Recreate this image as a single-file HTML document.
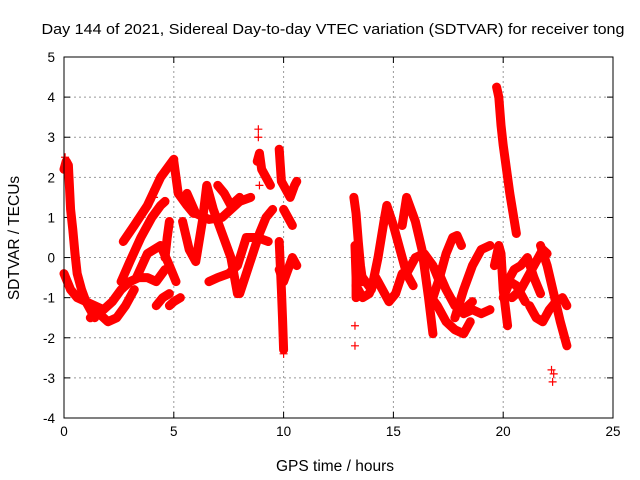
<!DOCTYPE html>
<html><head><meta charset="utf-8">
<style>
html,body{margin:0;padding:0;background:#fff;}
svg{display:block;font-family:"Liberation Sans",sans-serif;}
</style></head>
<body>
<svg id="chart" width="640" height="480" viewBox="0 0 640 480">
<rect width="640" height="480" fill="#fff"/>
<text x="333" y="34" font-size="15" text-anchor="middle" textLength="583" lengthAdjust="spacingAndGlyphs">Day 144 of 2021, Sidereal Day-to-day VTEC variation (SDTVAR) for receiver tong</text>
<g id="grid"></g>
<g id="axes"></g>
<g id="marks"></g>
<rect x="64" y="57" width="549" height="361" fill="none" stroke="#000" stroke-width="1"/>
<text x="335" y="471" font-size="15.5" text-anchor="middle">GPS time / hours</text>
<text x="19" y="238" font-size="15.5" text-anchor="middle" transform="rotate(-90 19 238)">SDTVAR / TECUs</text>
</svg>
<script>
const xTicks = [0,5,10,15,20,25];
const yTicks = [-4,-3,-2,-1,0,1,2,3,4,5];
const trackTimes = [
 [0,0.1,0.2,0.3,0.4,0.5,0.6,0.8,1.0,1.2,1.4],
 [0,0.3,0.6,1.0,1.4,1.8,2.2,2.6,3.0,3.4,3.8,4.2,4.6],
 [1.2,1.6,2.0,2.4,2.8,3.2],
 [2.7,3.2,3.8,4.4,4.8,5.0],
 [2.6,3.0,3.5,4.0,4.4,4.6],
 [3.3,3.8,4.4,4.8,5.1],
 [5.0,5.2,5.6,5.9],
 [4.2,4.5,4.8],
 [4.8,5.0,5.3],
 [4.6,4.7,4.8],
 [5.4,5.7,6.0,6.3,6.5,6.8,7.2,7.6,7.9],
 [5.6,6.0,6.6,7.2,7.6,8.0,8.5],
 [6.6,7.0,7.5,7.9,8.3,8.8,9.3],
 [8.0,8.3,8.6,8.9,9.2,9.5],
 [7.0,7.3,7.6,8.0],
 [8.8,8.9,9.0,9.2,9.4],
 [9.8,9.85,9.9,10.1,10.3,10.5,10.6],
 [9.8,9.85,9.9,9.95,10.0],
 [9.8,10.0,10.2,10.4,10.6],
 [10.0,10.2,10.4],
 [13.2,13.3,13.4,13.5,13.6],
 [13.25,13.3,13.3],
 [13.3,13.6,13.9,14.2,14.5,14.8,15.1,15.4],
 [13.6,14.0,14.3,14.6,14.7,15.0,15.3,15.6,15.9],
 [15.4,15.6,15.8,16.0,16.3,16.6,16.8],
 [15.6,16.0,16.4,16.8,17.1],
 [16.8,17.1,17.4,17.7,17.9,18.1],
 [16.6,17.0,17.4,17.8,18.2,18.5],
 [17.8,18.2,18.6,19.0,19.4],
 [18.2,18.6,19.0,19.4],
 [17.0,17.4,17.8,18.2,18.6],
 [19.7,19.8,19.9,20.0,20.1,20.3,20.45,20.6],
 [19.6,19.8,19.9,20.0,20.2],
 [20.2,20.5,20.8,21.1,21.4,21.7],
 [20.4,20.8,21.2,21.5,21.8,22.0],
 [21.7,22.0,22.3,22.6,22.9],
 [21.2,21.5,21.8,22.1,22.4,22.7,22.9],
 [20.0,20.3,20.6,21.0]
];
const trackValues = [
 [2.2,2.4,2.3,1.2,0.7,0.1,-0.4,-0.8,-1.1,-1.3,-1.5],
 [-0.4,-0.8,-1.0,-1.1,-1.2,-1.3,-1.1,-0.8,-0.6,-0.5,-0.5,-0.6,-0.3],
 [-1.5,-1.4,-1.6,-1.5,-1.2,-0.8],
 [0.4,0.8,1.3,2.0,2.3,2.45],
 [-0.6,-0.1,0.5,1.0,1.3,1.4],
 [-0.5,0.1,0.3,-0.2,-0.6],
 [2.4,1.6,1.3,1.1],
 [-1.2,-1.0,-0.9],
 [-1.2,-1.1,-1.0],
 [0.0,0.5,0.9],
 [0.9,0.2,-0.1,0.9,1.8,1.2,0.6,0.0,-0.9],
 [1.6,1.1,0.95,1.0,1.2,1.4,1.5],
 [-0.6,-0.5,-0.4,-0.2,0.5,0.5,0.4],
 [-0.9,-0.4,0.1,0.6,1.0,1.2],
 [1.8,1.6,1.3,1.5],
 [2.4,2.6,2.2,2.0,1.8],
 [2.7,2.3,1.9,1.7,1.5,1.8,1.9],
 [0.4,-0.2,-0.8,-1.5,-2.3],
 [-0.3,-0.6,-0.3,0.0,-0.2],
 [1.2,1.0,0.8],
 [1.5,1.1,0.4,-0.2,-0.6],
 [0.3,-0.5,-1.0],
 [-0.7,-1.0,-0.9,-0.5,-0.8,-1.1,-0.9,-0.4],
 [-0.5,-0.8,0.0,1.0,1.3,0.8,0.2,-0.4,-0.7],
 [0.8,1.5,1.2,0.9,0.2,-1.0,-1.9],
 [-0.4,0.0,0.1,-0.2,-0.6],
 [-1.0,-0.5,0.1,0.5,0.55,0.3],
 [-0.9,-1.2,-1.6,-1.8,-1.9,-1.6],
 [-1.5,-0.8,-0.2,0.2,0.3],
 [-1.4,-1.3,-1.4,-1.3],
 [-0.3,-0.8,-1.2,-1.3,-1.1],
 [4.25,4.0,3.3,2.8,2.4,1.6,1.1,0.6],
 [-0.2,0.3,0.1,-0.8,-1.7],
 [-0.6,-0.3,-0.2,0.0,-0.5,-0.9],
 [-1.0,-0.8,-0.4,-0.1,0.2,0.1],
 [0.3,-0.2,-0.9,-1.6,-2.2],
 [-1.2,-1.5,-1.6,-1.3,-1.1,-1.0,-1.2],
 [-1.0,-0.6,-0.7,-1.1]
];
const outlierTimes = [8.85,8.85,8.9,13.25,13.25,22.2,22.25,22.3,0.05,4.1,4.1,10.0];
const outlierValues = [3.2,3.0,1.8,-1.7,-2.2,-2.8,-3.1,-2.9,2.5,1.7,1.5,-2.4];

const NS='http://www.w3.org/2000/svg';
const X0=64,X1=613,Y0=418,Y1=57;
const xMin=0,xMax=25,yMin=-4,yMax=5;
function xs(t){return X0+(t-xMin)/(xMax-xMin)*(X1-X0);}
function ys(v){return Y0-(v-yMin)/(yMax-yMin)*(Y0-Y1);}
function mk(tag,attrs,parent){const e=document.createElementNS(NS,tag);for(const k in attrs)e.setAttribute(k,attrs[k]);parent.appendChild(e);return e;}
const grid=document.getElementById('grid'),axes=document.getElementById('axes'),marks=document.getElementById('marks');

xTicks.forEach(function(t){
  const x=xs(t);
  if(t>xMin&&t<xMax){
    const g=mk('line',{x1:x,y1:Y0,x2:x,y2:Y1,stroke:'#999','stroke-dasharray':'2,3','stroke-width':1},grid);
    
    
  }
  const tk=mk('line',{x1:x,y1:Y0,x2:x,y2:Y0-6,stroke:'#000'},axes);
  
  
  const tk2=mk('line',{x1:x,y1:Y1,x2:x,y2:Y1+6,stroke:'#000'},axes);
  
  
  const lb=mk('text',{x:x,y:Y0+18,'font-size':13.5,'text-anchor':'middle'},axes);
  lb.textContent=t;
  
  
});
yTicks.forEach(function(v){
  const y=ys(v);
  if(v>yMin&&v<yMax){
    const g=mk('line',{x1:X0,y1:y,x2:X1,y2:y,stroke:'#999','stroke-dasharray':'2,3','stroke-width':1},grid);
    
    
  }
  const tk=mk('line',{x1:X0,y1:y,x2:X0+6,y2:y,stroke:'#000'},axes);
  
  
  const tk2=mk('line',{x1:X1,y1:y,x2:X1-6,y2:y,stroke:'#000'},axes);
  
  
  const lb=mk('text',{x:X0-9,y:y+5,'font-size':13.5,'text-anchor':'end'},axes);
  lb.textContent=v;
  
  
});

function plus(t,v,name){
  const x=xs(t),y=ys(v);
  const p=mk('path',{d:'M'+(x-4)+' '+y+'H'+(x+4)+'M'+x+' '+(y-4)+'V'+(y+4),stroke:'#f00','stroke-width':1.2,fill:'none'},marks);
  
  
}
trackTimes.forEach(function(ts,i){
  const vs=trackValues[i];
  const pts=ts.map(function(t,j){return xs(t)+','+ys(vs[j]);}).join(' ');
  const pl=mk('polyline',{points:pts,fill:'none',stroke:'#f00','stroke-width':9,'stroke-linejoin':'round','stroke-linecap':'round'},marks);
  
  
  ts.forEach(function(t,j){plus(t,vs[j],'sdtvar-point');});
});
outlierTimes.forEach(function(t,i){plus(t,outlierValues[i],'sdtvar-outlier');});
</script>
</body></html>
